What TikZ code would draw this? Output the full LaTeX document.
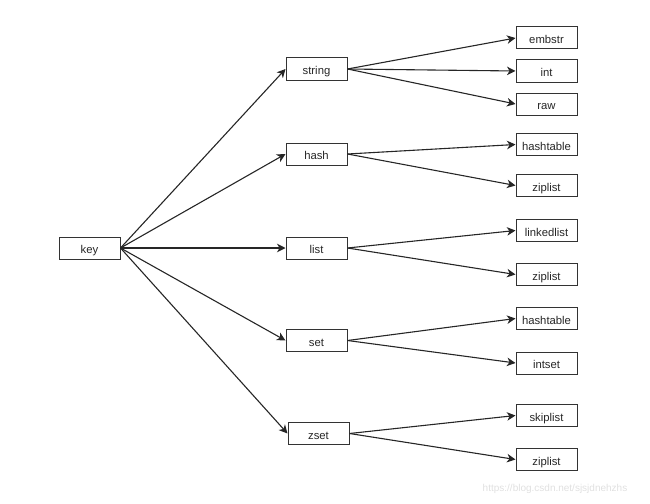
\documentclass[tikz,border=0pt]{standalone}
\usepackage{fontspec}
\setmainfont{Liberation Sans}
\usepackage{tikz}
\usetikzlibrary{arrows.meta}
\tikzstyle{typebox} = [rectangle, draw=black!80, line width=1pt, minimum
width=61pt, minimum height=22pt, inner sep=0pt, text height=11.5pt, text
depth=0.5pt, text=black!85, font=\fontsize{11.3}{13}\selectfont]
\tikzstyle{arrow} = [line width=1.1pt, draw=black!85, -{Stealth[length=8.5pt,width=8.5pt,inset=2.5pt]}]

\begin{document}
\begin{tikzpicture}[x=1pt, y=-1pt]
    \useasboundingbox (0,0) rectangle (650,503);
    \node (key) [typebox] at (89.5,248) {key};
    % object types
    \node (str) [typebox] at (316.5,69) {string};
    \node (hash) [typebox] at (316.5,154) {hash};
    \node (list) [typebox] at (316.5,248) {list};
    \node (set) [typebox] at (316.5,340.5) {set};
    \node (zset) [typebox] at (318.5,433.5) {zset};
    % encodings
    \node (embstr) [typebox] at (546.5,38) {embstr};
    \node (int) [typebox] at (546.5,71) {int};
    \node (raw) [typebox] at (546.5,104) {raw};
    \node (hashht) [typebox] at (546.5,144.5) {hashtable};
    \node (hashzl) [typebox] at (546.5,185.5) {ziplist};
    \node (listll) [typebox] at (546.5,230.5) {linkedlist};
    \node (listzl) [typebox] at (546.5,274.5) {ziplist};
    \node (setht) [typebox] at (546.5,318.5) {hashtable};
    \node (setis) [typebox] at (546.5,363) {intset};
    \node (zsetsl) [typebox] at (546.5,415.5) {skiplist};
    \node (zsetzl) [typebox] at (546.5,459.5) {ziplist};
    \node (mark) [text=black!12, font=\fontsize{10}{12}\selectfont] at (555,489)
    {https://blog.csdn.net/sjsjdnehzhs};
    \draw [arrow] (key.east) -- (str.west);
    \draw [arrow] (key.east) -- (hash.west);
    \draw [arrow] (key.east) -- (list.west);
    \draw [arrow] (key.east) -- (set.west);
    \draw [arrow] (key.east) -- (zset.west);
    \draw [arrow] (str.east) -- (embstr.west);
    \draw [arrow] (str.east) -- (int.west);
    \draw [arrow] (str.east) -- (raw.west);
    \draw [arrow] (hash.east) -- (hashht.west);
    \draw [arrow] (hash.east) -- (hashzl.west);
    \draw [arrow] (list.east) -- (listll.west);
    \draw [arrow] (list.east) -- (listzl.west);
    \draw [arrow] (set.east) -- (setht.west);
    \draw [arrow] (set.east) -- (setis.west);
    \draw [arrow] (zset.east) -- (zsetsl.west);
    \draw [arrow] (zset.east) -- (zsetzl.west);
\end{tikzpicture}
\end{document}
